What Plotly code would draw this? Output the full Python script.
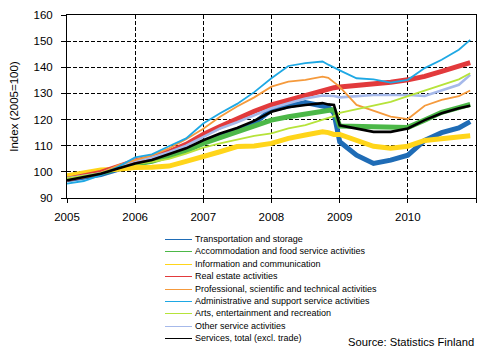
import plotly.graph_objects as go

# ---------------- data ----------------
months = ["2005-01-01", "2005-04-01", "2005-07-01", "2005-10-01",
          "2006-01-01", "2006-04-01", "2006-07-01", "2006-10-01",
          "2007-01-01", "2007-04-01", "2007-07-01", "2007-10-01",
          "2008-01-01", "2008-04-01", "2008-07-01", "2008-10-01",
          "2008-11-01", "2008-12-01",
          "2009-01-01", "2009-04-01", "2009-07-01", "2009-10-01",
          "2010-01-01", "2010-04-01", "2010-07-01", "2010-10-01",
          "2010-12-01"]

transportation = [97.0, 98.0, 99.0, 101.0, 103.0, 104.3, 106.5, 108.3, 111.5, 113.7, 116.0, 118.7,
                  123.7, 125.2, 126.5, 125.2, 124.7, 122.5, 111.5, 106.4, 103.2, 104.5, 106.4,
                  112.0, 115.0, 116.8, 119.2]
accommodation = [97.5, 98.3, 99.5, 101.3, 103.0, 104.0, 106.0, 108.0, 110.9, 113.2, 115.3, 117.8,
                 119.8, 121.1, 122.0, 123.0, 123.4, 123.8, 117.5, 117.3, 117.2, 117.0, 117.0,
                 119.8, 122.8, 124.6, 125.8]
information = [98.5, 99.5, 100.7, 101.0, 101.7, 101.8, 102.2, 104.0, 105.7, 107.7, 109.7, 109.9,
               110.9, 112.8, 114.1, 115.3, 115.0, 114.3, 114.3, 112.0, 109.8, 109.0, 109.8,
               112.0, 112.8, 113.4, 113.8]
real_estate = [97.2, 98.5, 99.8, 102.0, 104.2, 105.5, 107.7, 110.5, 114.3, 117.3, 120.2, 123.2,
               125.6, 127.5, 129.4, 131.3, 131.8, 132.2, 132.5, 133.0, 133.8, 134.3, 135.2,
               136.5, 138.4, 140.3, 141.8]
professional = [97.0, 98.0, 99.5, 102.5, 104.5, 106.3, 109.0, 112.5, 116.5, 121.1, 125.0, 128.5,
                132.6, 134.5, 135.2, 136.4, 136.0, 134.3, 132.5, 125.6, 123.3, 121.1, 120.2,
                125.3, 127.5, 129.0, 131.1]
administrative = [95.5, 96.5, 98.7, 101.9, 105.5, 106.7, 109.8, 112.8, 118.5, 122.4, 126.0, 130.5,
                  135.8, 140.5, 141.6, 142.2, 141.0, 139.8, 138.8, 135.8, 135.4, 134.1, 135.2,
                  139.7, 142.9, 146.7, 150.5]
arts = [97.5, 98.5, 99.5, 101.5, 103.0, 103.8, 105.0, 107.0, 109.3, 110.9, 112.3, 113.8,
        114.7, 116.6, 117.9, 119.8, 120.5, 121.3, 122.6, 123.9, 125.2, 126.8, 129.0,
        131.1, 133.3, 135.4, 137.7]
other_services = [97.5, 98.5, 99.5, 102.0, 104.3, 105.5, 107.5, 110.0, 113.4, 116.6, 119.0, 121.8,
                  124.3, 126.2, 128.1, 129.2, 129.2, 129.0, 128.5, 128.9, 129.4, 129.4, 129.4,
                  129.0, 131.1, 133.3, 137.1]
services_total = [96.8, 98.0, 99.3, 101.3, 103.2, 104.5, 106.7, 109.0, 112.1, 114.7, 116.8, 119.5,
                  123.0, 124.7, 125.6, 126.3, 125.8, 125.6, 117.8, 116.6, 115.3, 115.3, 116.6,
                  119.8, 122.4, 124.3, 125.3]

series_names = ["Transportation and storage",
                "Accommodation and food service activities",
                "Information and communication",
                "Real estate activities",
                "Professional, scientific and technical activities",
                "Administrative and support service activities",
                "Arts, entertainment and recreation",
                "Other service activities",
                "Services, total (excl. trade)"]
series_values = [transportation, accommodation, information, real_estate, professional,
                 administrative, arts, other_services, services_total]

year_ticks = ["2005-01-01", "2006-01-01", "2007-01-01", "2008-01-01",
              "2009-01-01", "2010-01-01", "2011-01-01"]
year_labels = ["2005", "2006", "2007", "2008", "2009", "2010", ""]

# ---------------- styling ----------------
colors = ["#1f6cb6", "#4cb848", "#ffd51a", "#e23a3c", "#f59a3c",
          "#1ea8e4", "#b6e33a", "#a6b9ea", "#000000"]
widths = [5, 5, 5, 5, 1.8, 1.8, 1.8, 2.6, 2.6]
draw_order = [0, 1, 2, 3, 7, 4, 6, 5, 8]

# the page body has an 8px margin, so the figure is sized/positioned to compensate
OFF = 8
W, H = 498 - OFF, 357 - 2 * OFF
PLOT_L, PLOT_R, PLOT_T, PLOT_B = 67 - OFF, 476 - OFF, 15 - OFF, 198 - OFF
ML, MR, MT, MB = PLOT_L, W - PLOT_R, PLOT_T, H - PLOT_B
PW, PH = PLOT_R - PLOT_L, PLOT_B - PLOT_T

def px_x(px):
    return (px - OFF - PLOT_L) / PW

def px_y(py):
    return (PLOT_B - (py - OFF)) / PH

fig = go.Figure()
for i in draw_order:
    fig.add_trace(go.Scatter(x=months, y=series_values[i], mode="lines",
                             line=dict(color=colors[i], width=widths[i]),
                             name=series_names[i], showlegend=False,
                             hoverinfo="skip"))

# custom compact legend
shapes = []
annotations = []
row0, row_step = 239.0, 12.4
for k, name in enumerate(series_names):
    row = round(row0 + k * row_step)
    yy_line = px_y(row + 0.5)
    yy_text = px_y(row)
    shapes.append(dict(type="line", xref="paper", yref="paper",
                       x0=px_x(165), x1=px_x(192), y0=yy_line, y1=yy_line,
                       line=dict(color=colors[k], width=1)))
    annotations.append(dict(x=px_x(193), y=yy_text, xref="paper", yref="paper",
                            text=name, showarrow=False, xanchor="left",
                            yanchor="middle",
                            font=dict(size=9, color="#000000",
                                      family="Liberation Sans, Arial, sans-serif")))

annotations.append(dict(x=px_x(476), y=px_y(342), xref="paper", yref="paper",
                        text="Source: Statistics Finland", showarrow=False,
                        xanchor="right", yanchor="middle",
                        font=dict(size=11.2, color="#000000",
                                  family="Liberation Sans, Arial, sans-serif")))

fig.update_layout(
    width=W, height=H,
    margin=dict(l=ML, r=MR, t=MT, b=MB, autoexpand=False),
    paper_bgcolor="white", plot_bgcolor="white",
    font=dict(family="Liberation Sans, Arial, sans-serif", size=11.5, color="#000000"),
    showlegend=False,
    shapes=shapes,
    annotations=annotations,
    xaxis=dict(type="date", range=["2005-01-01", "2011-01-01"],
               tickvals=year_ticks, ticktext=year_labels, automargin=False,
               showgrid=True, gridcolor="#000000", gridwidth=1, griddash="4px,2px",
               showline=True, linecolor="#000000", linewidth=1, mirror=True,
               ticks="outside", ticklen=4, tickcolor="#000000",
               ticklabelstandoff=4, zeroline=False),
    yaxis=dict(range=[90, 160], dtick=10, tick0=90, automargin=False,
               showgrid=True, gridcolor="#000000", gridwidth=1, griddash="4px,2px",
               showline=True, linecolor="#000000", linewidth=1, mirror=True,
               ticks="outside", ticklen=5, tickcolor="#000000",
               ticklabelstandoff=6, zeroline=False,
               title=dict(text="Index (2005=100)", standoff=16,
                          font=dict(size=11.5))),
)

fig.write_html("out.html")
